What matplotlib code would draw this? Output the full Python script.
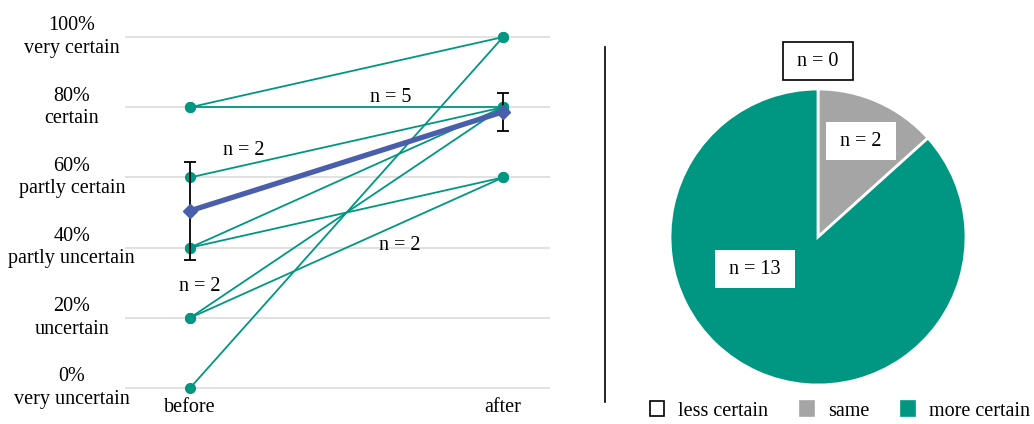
import matplotlib.pyplot as plt
from matplotlib.lines import Line2D
from matplotlib.patches import Patch

# responses per participant, before -> after (percent certainty)
before = [80, 80, 60, 40, 40, 20, 20, 0]
after = [100, 80, 80, 80, 60, 80, 60, 100]
mean_vals = [50.5, 78.7]
mean_err = [14.0, 5.5]
times = ['before', 'after']
tick_vals = [0, 20, 40, 60, 80, 100]
tick_names = ['very uncertain', 'uncertain', 'partly uncertain',
              'partly certain', 'certain', 'very certain']
n_labels = [('n = 5', 0.64, 82.8), ('n = 2', 0.17, 67.8),
            ('n = 2', 0.67, 40.7), ('n = 2', 0.03, 28.8)]

pie_names = ['less certain', 'same', 'more certain']
pie_counts = [0, 2, 13]
pie_colors = ['white', '#a5a5a5', '#009782']

teal = '#009782'
blue = '#4a5fab'
FS = 14.5

plt.rcParams['font.family'] = ['Liberation Serif', 'DejaVu Serif']
plt.rcParams['font.size'] = FS

fig = plt.figure(figsize=(10.34, 4.24), dpi=100)
W, H = 1034, 424

# ---- left: slope chart
ax = fig.add_axes([125 / W, 29 / H, 425 / W, 366 / H])
ax.set_xlim(-0.208, 1.150)
ax.set_ylim(-2, 102.3)
for v in tick_vals:
    ax.axhline(v, color='#d9d9d9', lw=1.1, zorder=0)
for b, a in zip(before, after):
    ax.plot([0, 1], [b, a], color=teal, lw=1.3, marker='o', ms=7, zorder=2)
ax.errorbar([0, 1], mean_vals, yerr=mean_err, color=blue, lw=3.8,
            marker='D', ms=7, ecolor='black', elinewidth=1.3, capsize=4,
            capthick=1.3, zorder=3)
for txt, x, y in n_labels:
    ax.text(x, y, txt, ha='center', va='center')
for v, name in zip(tick_vals, tick_names):
    ax.text(-0.378, v, f'{v}%\n{name}', ha='center', va='center',
            linespacing=1.25, clip_on=False)
for i, t in enumerate(times):
    ax.text(i, -5.5, t, ha='center', va='center', clip_on=False)
ax.axis('off')

# separator
fig.add_artist(Line2D([605 / W, 605 / W], [1 - 47 / H, 1 - 402 / H],
                      color='black', lw=1.2, transform=fig.transFigure))

# ---- right: pie
r = 148
box = 170
ax2 = fig.add_axes([(818 - box) / W, (H - 237 - box) / H, 2 * box / W, 2 * box / H])
ax2.pie(pie_counts, colors=pie_colors, startangle=90, counterclock=False,
        wedgeprops=dict(edgecolor='white', linewidth=2))
lim = box / r
ax2.set_xlim(-lim, lim)
ax2.set_ylim(-lim, lim)
ax2.set_aspect('equal')
ax2.axis('off')
bx = dict(boxstyle='square,pad=0.45', fc='white', ec='black', lw=1.2)
bw = dict(boxstyle='square,pad=0.45', fc='white', ec='none')
ax2.text(0, (237 - 61) / r, ' n = 0 ', ha='center', va='center', bbox=bx)
ax2.text((861 - 818) / r, (237 - 141) / r, ' n = 2 ', ha='center', va='center', bbox=bw)
ax2.text((755 - 818) / r, (237 - 269) / r, ' n = 13 ', ha='center', va='center', bbox=bw)

handles = [Patch(fc=c, ec='black' if c == 'white' else c, lw=1.2) for c in pie_colors]
fig.legend(handles, pie_names, loc='center', bbox_to_anchor=(840 / W, 13 / H),
           ncol=3, frameon=False, handlelength=0.7, handleheight=0.7,
           handletextpad=0.7, columnspacing=1.55)

fig.savefig('out.png', dpi=100)
